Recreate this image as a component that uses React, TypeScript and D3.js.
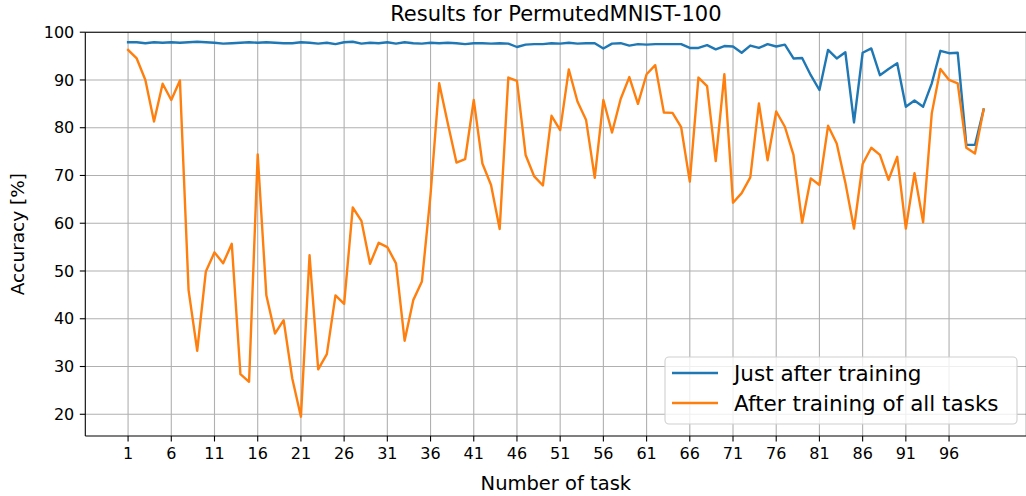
import React from "react";
import * as d3 from "d3";

const tasks: number[] = Array.from({ length: 100 }, (_, i) => i + 1);

const justAfter: number[] = [
  97.9, 97.9, 97.7, 97.9, 97.8, 97.9, 97.8, 97.9, 98.0, 97.9,
  97.8, 97.6, 97.7, 97.8, 97.9, 97.8, 97.9, 97.8, 97.7, 97.7,
  97.9, 97.8, 97.6, 97.8, 97.5, 97.9, 98.0, 97.6, 97.8, 97.7,
  97.9, 97.6, 97.9, 97.7, 97.6, 97.8, 97.7, 97.8, 97.7, 97.5,
  97.7, 97.7, 97.6, 97.7, 97.6, 96.9, 97.4, 97.5, 97.5, 97.7,
  97.6, 97.8, 97.6, 97.7, 97.7, 96.6, 97.6, 97.7, 97.2, 97.5,
  97.4, 97.5, 97.5, 97.5, 97.5, 96.7, 96.7, 97.3, 96.4, 97.1,
  97.0, 95.7, 97.2, 96.7, 97.5, 97.0, 97.4, 94.5, 94.6, 91.0,
  87.9, 96.3, 94.5, 95.8, 81.1, 95.7, 96.6, 91.0, 92.3, 93.5,
  84.4, 85.7, 84.4, 89.3, 96.1, 95.6, 95.7, 76.4, 76.4, 83.8,
];

const afterAll: number[] = [
  96.3, 94.5, 90.0, 81.3, 89.2, 85.8, 89.9, 46.0, 33.3, 49.9,
  53.9, 51.6, 55.7, 28.4, 26.8, 74.4, 44.9, 36.9, 39.7, 27.5,
  19.5, 53.3, 29.4, 32.6, 44.9, 43.1, 63.3, 60.5, 51.5, 55.9,
  55.0, 51.6, 35.4, 43.9, 47.8, 66.0, 89.3, 80.9, 72.7, 73.4,
  85.8, 72.5, 68.0, 58.8, 90.5, 89.8, 74.3, 69.8, 67.9, 82.5,
  79.5, 92.2, 85.5, 81.6, 69.5, 85.8, 79.0, 86.0, 90.6, 85.0,
  91.2, 93.1, 83.2, 83.1, 80.1, 68.7, 90.5, 88.7, 73.0, 91.2,
  64.3, 66.3, 69.6, 85.1, 73.2, 83.4, 80.2, 74.3, 60.1, 69.4,
  68.0, 80.4, 76.7, 68.5, 58.9, 72.4, 75.8, 74.3, 69.1, 73.9,
  58.9, 70.5, 60.2, 83.0, 92.3, 90.0, 89.3, 75.8, 74.6, 83.8,
];

const xTicks: number[] = [1, 6, 11, 16, 21, 26, 31, 36, 41, 46, 51, 56, 61, 66, 71, 76, 81, 86, 91, 96];
const yTicks: number[] = [20, 30, 40, 50, 60, 70, 80, 90, 100];
const seriesNames: string[] = ["Just after training", "After training of all tasks"];
const colors: string[] = ["#1f77b4", "#ff7f0e"];

const W = 1026;
const H = 496;
const left = 85.3;
const right = 1026.4;
const top = 32.2;
const bottom = 436;

export default function App() {
  const x = d3.scaleLinear().domain([-3.95, 104.95]).range([left, right]);
  const y = d3.scaleLinear().domain([15.45, 100]).range([bottom, top]);
  const line = d3
    .line<number>()
    .x((_, i) => x(tasks[i]))
    .y((d) => y(d));
  const font = "'DejaVu Sans', sans-serif";
  const series = [justAfter, afterAll];

  return (
    <>
      <style>{`body{margin:0}`}</style>
      <svg width={W} height={H} style={{ display: "block", background: "#fff" }} fontFamily={font}>
        <defs>
          <clipPath id="plotclip">
            <rect x={left} y={top} width={right - left} height={bottom - top} />
          </clipPath>
        </defs>
        {/* grid */}
        <g stroke="#b0b0b0" strokeWidth={1.1}>
          {xTicks.map((t) => (
            <line key={"gx" + t} x1={x(t)} x2={x(t)} y1={top} y2={bottom} />
          ))}
          {yTicks.map((t) => (
            <line key={"gy" + t} x1={left} x2={right} y1={y(t)} y2={y(t)} />
          ))}
        </g>
        {/* series */}
        <g clipPath="url(#plotclip)" fill="none" strokeLinejoin="round" strokeLinecap="square">
          {series.map((s, k) => (
            <path key={k} d={line(s) || ""} stroke={colors[k]} strokeWidth={2.4} />
          ))}
        </g>
        {/* spines */}
        <g stroke="#000" strokeWidth={1.1} fill="none">
          <line x1={left} x2={left} y1={top} y2={bottom} />
          <line x1={left} x2={right} y1={bottom} y2={bottom} />
          <line x1={left} x2={right} y1={top} y2={top} />
          <line x1={right} x2={right} y1={top} y2={bottom} />
        </g>
        {/* y ticks */}
        <g>
          {yTicks.map((t) => (
            <g key={"yt" + t}>
              <line x1={left - 5.5} x2={left} y1={y(t)} y2={y(t)} stroke="#000" strokeWidth={1.1} />
              <text x={left - 11} y={y(t)} dy="0.35em" textAnchor="end" fontSize={16}>
                {t}
              </text>
            </g>
          ))}
        </g>
        {/* x ticks */}
        <g>
          {xTicks.map((t) => (
            <g key={"xt" + t}>
              <line x1={x(t)} x2={x(t)} y1={bottom} y2={bottom + 5.5} stroke="#000" strokeWidth={1.1} />
              <text x={x(t)} y={bottom + 23} textAnchor="middle" fontSize={16}>
                {t}
              </text>
            </g>
          ))}
        </g>
        {/* labels */}
        <text x={(left + right) / 2} y={21} textAnchor="middle" fontSize={21}>
          Results for PermutedMNIST-100
        </text>
        <text x={(left + right) / 2} y={490} textAnchor="middle" fontSize={19.5}>
          Number of task
        </text>
        <text
          transform={`translate(${24},${(top + bottom) / 2}) rotate(-90)`}
          textAnchor="middle"
          fontSize={18.5}
        >
          Accuracy [%]
        </text>
        {/* legend */}
        <g>
          <rect x={665} y={357} width={352} height={67} rx={4} fill="#fff" fillOpacity={0.8} stroke="#d0d0d0" strokeWidth={1.1} />
          {seriesNames.map((n, k) => (
            <g key={n}>
              <line x1={672} x2={718} y1={373 + k * 30} y2={373 + k * 30} stroke={colors[k]} strokeWidth={2.4} />
              <text x={734} y={381 + k * 30} fontSize={21.5} fill="#000">
                {n}
              </text>
            </g>
          ))}
        </g>
      </svg>
    </>
  );
}
